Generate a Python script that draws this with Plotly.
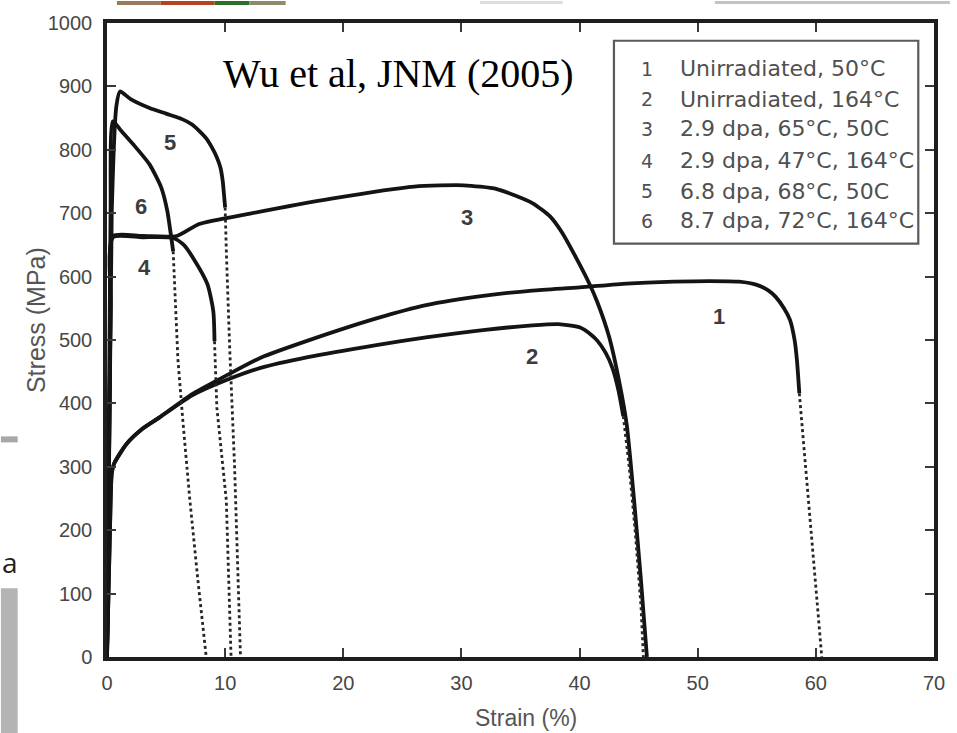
import plotly.graph_objects as go

# Engineering stress-strain curves: strain in %, stress in MPa.
# Each specimen has a solid loading branch and a dotted fracture tail.
strain_1 = [0, 0.25, 0.4, 0.6, 1.65, 3, 4.45, 7.25, 10, 13, 17, 22.8, 27, 32, 36, 40, 44, 48, 51, 53.5, 55, 56, 56.6, 57.3, 57.8, 58.2, 58.4, 58.6]
stress_1 = [0, 200, 290, 305, 336, 360, 378, 415, 443, 472, 499, 534, 555, 570, 578, 583, 589, 592, 593, 592, 587, 578, 568, 550, 532, 500, 468, 416]
tail_strain_1 = [58.6, 58.9, 59.4, 60.0, 60.5]
tail_stress_1 = [416, 353, 242, 110, 0]

strain_2 = [0, 0.25, 0.4, 0.6, 1.65, 3, 4.45, 7.25, 10, 13, 17, 22.8, 27, 32, 36, 38.2, 40, 41, 41.5, 42.2, 42.8, 43.3, 43.7]
stress_2 = [0, 200, 290, 305, 336, 360, 378, 413, 436, 456, 473, 492, 504, 516, 523, 525, 520, 508, 499, 480, 455, 420, 380]
tail_strain_2 = [43.7, 44.2, 44.7, 45.2, 45.4]
tail_stress_2 = [380, 300, 200, 80, 0]

strain_3 = [0, 0.3, 0.5, 3, 5.9, 7.8, 12, 19, 26, 30.2, 33, 36, 37.5, 38.5, 39.7, 40.8, 41.5, 42.5, 43.4, 44, 44.6, 45.2, 45.7]
stress_3 = [0, 550, 664, 664, 664, 683, 699, 723, 742, 744, 738, 716, 695, 670, 630, 590, 560, 505, 430, 365, 250, 120, 0]

strain_4 = [0, 0.3, 0.5, 3, 5.6, 6.5, 7.3, 8.5, 9.0, 9.1]
stress_4 = [0, 550, 662, 662, 661, 650, 629, 588, 545, 498]
tail_strain_4 = [9.1, 9.3, 10.1, 10.5]
tail_stress_4 = [498, 393, 247, 0]

strain_5 = [0, 0.4, 0.8, 1.1, 2, 3.6, 5, 6.4, 7.2, 7.8, 8.4, 8.9, 9.3, 9.6, 9.8, 9.9, 10.0]
stress_5 = [0, 700, 870, 892, 880, 866, 857, 848, 840, 830, 818, 803, 788, 772, 750, 730, 709]
tail_strain_5 = [10.0, 10.1, 10.4, 10.8, 11.3]
tail_stress_5 = [709, 640, 480, 300, 0]

strain_6 = [0, 0.3, 0.5, 1.2, 2.2, 3.6, 4.6, 5.1, 5.4, 5.6]
stress_6 = [0, 700, 845, 830, 809, 777, 740, 704, 667, 640]
tail_strain_6 = [5.6, 5.8, 6.0, 6.4, 7.0, 7.7, 8.4]
tail_stress_6 = [640, 560, 470, 377, 250, 120, 0]

curve_ids = ["1", "2", "3", "4", "5", "6"]
legend_labels = [
    "Unirradiated, 50°C",
    "Unirradiated, 164°C",
    "2.9 dpa, 65°C, 50C",
    "2.9 dpa, 47°C, 164°C",
    "6.8 dpa, 68°C, 50C",
    "8.7 dpa, 72°C, 164°C",
]
# where each curve number is written on the plot
label_strain = [51.8, 36.0, 30.5, 3.2, 5.3, 2.9]
label_stress = [537, 474, 693, 614, 811, 711]

x_ticks = [0, 10, 20, 30, 40, 50, 60, 70]
y_ticks = [0, 100, 200, 300, 400, 500, 600, 700, 800, 900, 1000]

x_title = "Strain (%)"
y_title = "Stress (MPa)"
source_note = "Wu et al, JNM (2005)"

solid = [
    (strain_1, stress_1), (strain_2, stress_2), (strain_3, stress_3),
    (strain_4, stress_4), (strain_5, stress_5), (strain_6, stress_6),
]
tails = [
    (tail_strain_1, tail_stress_1), (tail_strain_2, tail_stress_2),
    (tail_strain_4, tail_stress_4), (tail_strain_5, tail_stress_5),
    (tail_strain_6, tail_stress_6),
]

INK = "#141414"
TXT = "#3c3c3c"

fig = go.Figure()
for (xs, ys), cid in zip(solid, curve_ids):
    fig.add_trace(go.Scatter(x=xs, y=ys, mode="lines", name=cid,
                             line=dict(color=INK, width=3.8, shape="spline", smoothing=0.6),
                             hoverinfo="x+y"))
for xs, ys in tails:
    fig.add_trace(go.Scatter(x=xs, y=ys, mode="lines",
                             line=dict(color="#262626", width=2.8, dash="dot"),
                             hoverinfo="x+y"))

annotations = []
for cid, sx, sy in zip(curve_ids, label_strain, label_stress):
    annotations.append(dict(x=sx, y=sy, xref="x", yref="y", text=f"<b>{cid}</b>",
                            showarrow=False, font=dict(family="Liberation Sans", size=22, color=TXT)))

# legend box drawn as a framed key: number column + description column
row_y = [0.928, 0.880, 0.833, 0.783, 0.735, 0.688]
for cid, lab, yy in zip(curve_ids, legend_labels, row_y):
    annotations.append(dict(x=0.653, y=yy, xref="paper", yref="paper", text=cid,
                            showarrow=False, xanchor="center", yanchor="middle",
                            font=dict(family="DejaVu Sans", size=19, color="#505050")))
    annotations.append(dict(x=0.691, y=yy, xref="paper", yref="paper", text=lab,
                            showarrow=False, xanchor="left", yanchor="middle",
                            font=dict(family="DejaVu Sans", size=22, color="#505050")))

annotations.append(dict(x=0.3525, y=0.921, xref="paper", yref="paper", text=source_note,
                        showarrow=False, xanchor="center", yanchor="middle",
                        font=dict(family="Liberation Serif", size=40, color="#000000")))
annotations.append(dict(x=0.507, y=-0.097, xref="paper", yref="paper", text=x_title,
                        showarrow=False, xanchor="center", yanchor="middle",
                        font=dict(family="Liberation Sans", size=23, color="#555555")))
annotations.append(dict(x=-0.085, y=0.531, xref="paper", yref="paper", text=y_title,
                        showarrow=False, xanchor="center", yanchor="middle", textangle=-90,
                        font=dict(family="Liberation Sans", size=25, color="#555555")))
# fragment of neighbouring slide text at the left edge
annotations.append(dict(x=-0.1055, y=0.150, xref="paper", yref="paper", text="a",
                        showarrow=False, xanchor="right", yanchor="middle",
                        font=dict(family="Open Sans", size=28, color="#222222")))

shapes = [
    dict(type="rect", xref="paper", yref="paper", x0=0.613, x1=0.981, y0=0.652, y1=0.972,
         line=dict(color="#5a5a5a", width=2.2), fillcolor="rgba(0,0,0,0)"),
    # slide pieces around the figure
    dict(type="rect", xref="paper", yref="paper", x0=-0.1283, x1=-0.108, y0=-0.1197, y1=0.1086,
         line=dict(width=0), fillcolor="#b4b4b4"),
    dict(type="rect", xref="paper", yref="paper", x0=-0.1283, x1=-0.108, y0=0.3385, y1=0.3480,
         line=dict(width=0), fillcolor="#a8a8a8"),
    dict(type="rect", xref="paper", yref="paper", x0=0.735, x1=1.0192, y0=1.0299, y1=1.0346,
         line=dict(width=0), fillcolor="#c4c4c4"),
    dict(type="rect", xref="paper", yref="paper", x0=0.451, x1=0.551, y0=1.0299, y1=1.0346,
         line=dict(width=0), fillcolor="#dddddd"),
    dict(type="rect", xref="paper", yref="paper", x0=0.012, x1=0.065, y0=1.0283, y1=1.0346,
         line=dict(width=0), fillcolor="#9a7a5a"),
    dict(type="rect", xref="paper", yref="paper", x0=0.065, x1=0.130, y0=1.0283, y1=1.0346,
         line=dict(width=0), fillcolor="#b5441e"),
    dict(type="rect", xref="paper", yref="paper", x0=0.130, x1=0.172, y0=1.0283, y1=1.0346,
         line=dict(width=0), fillcolor="#2f6e2a"),
    dict(type="rect", xref="paper", yref="paper", x0=0.172, x1=0.216, y0=1.0283, y1=1.0346,
         line=dict(width=0), fillcolor="#8c8c6a"),
]

axis_common = dict(
    showgrid=False, zeroline=False, showline=True, linewidth=3.5, linecolor="#1e1e1e",
    mirror="ticks", ticks="inside", ticklen=9, tickwidth=1.6, tickcolor="#3a3a3a",
    tickfont=dict(family="Liberation Sans", size=20, color="#474747"),
)

fig.update_layout(
    width=957, height=733,
    margin=dict(l=107, r=16, t=22, b=76),
    paper_bgcolor="white", plot_bgcolor="white",
    showlegend=False,
    xaxis=dict(range=[0, 70], tickvals=x_ticks, ticklabelstandoff=5, **axis_common),
    yaxis=dict(range=[0, 1000], tickvals=y_ticks, ticklabelstandoff=7, **axis_common),
    annotations=annotations,
    shapes=shapes,
)

fig.write_html("out.html")
